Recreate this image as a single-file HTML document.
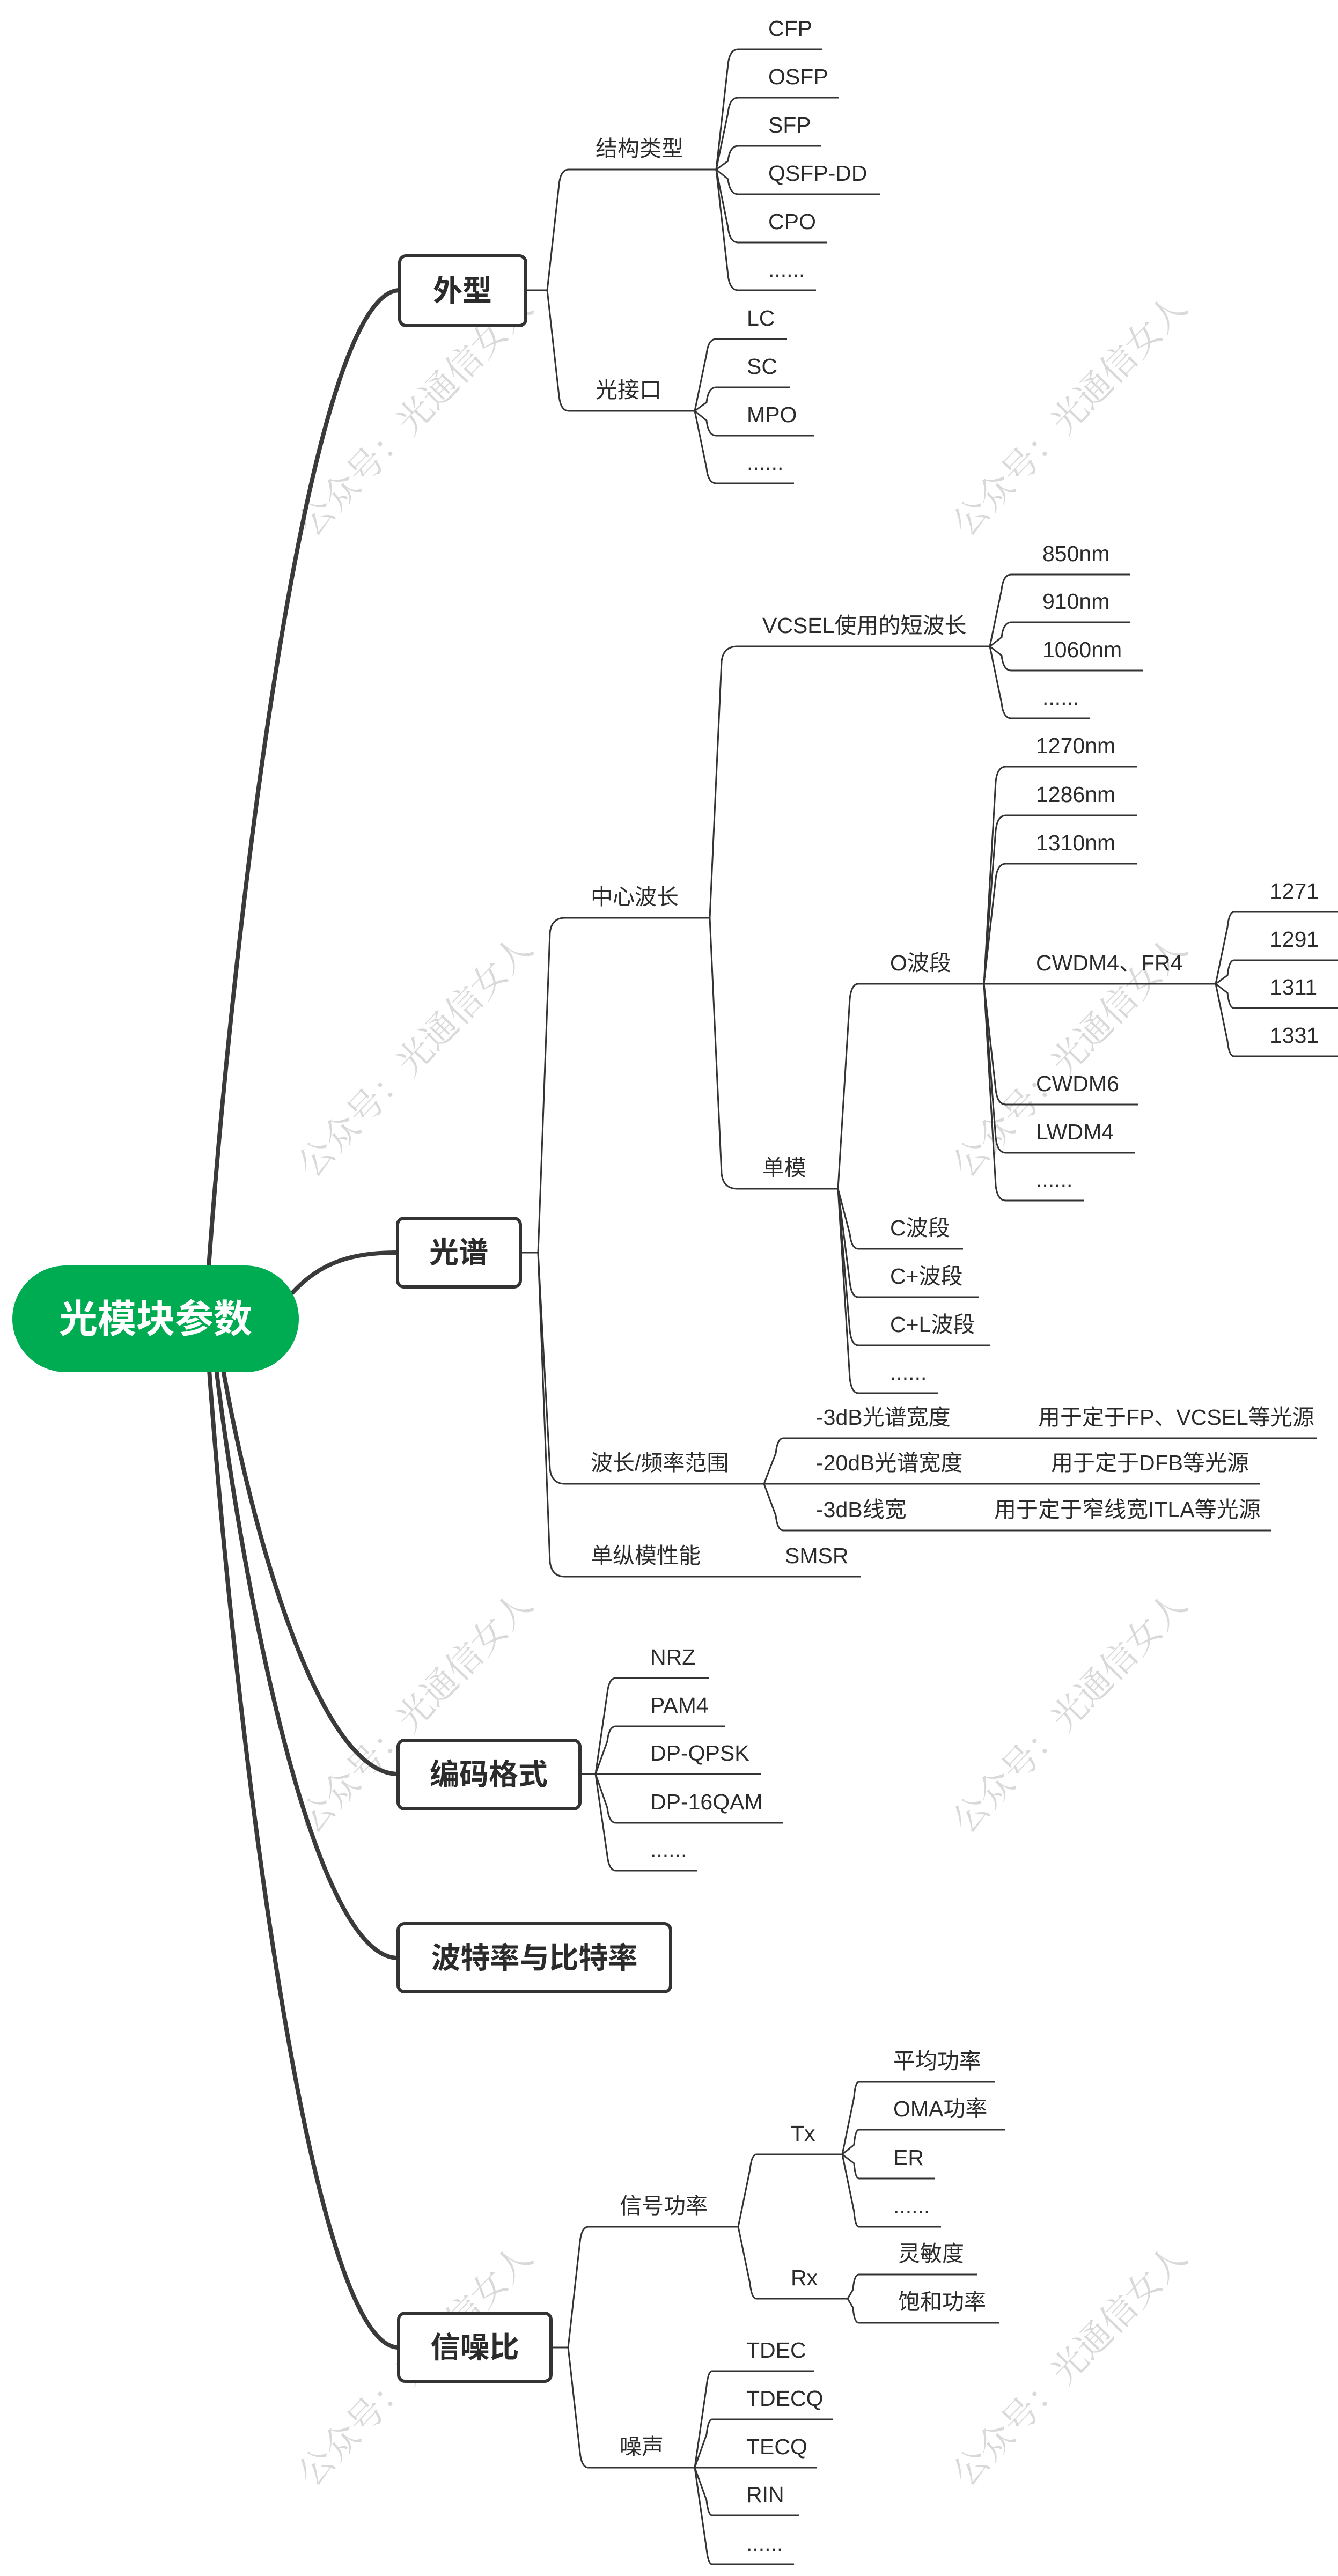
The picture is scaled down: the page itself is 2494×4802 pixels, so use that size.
<!DOCTYPE html>
<html><head><meta charset="utf-8"><style>
html,body{margin:0;padding:0;background:#fff;}
svg{display:block;}
.t{font-family:"Liberation Sans","Noto Sans CJK SC",sans-serif;font-size:41px;fill:#2b2b2b;}
.b{font-family:"Liberation Sans","Noto Sans CJK SC",sans-serif;font-size:55px;font-weight:bold;fill:#2b2b2b;}
.w{font-family:"Noto Serif CJK SC","Noto Sans CJK SC",serif;font-size:66px;fill:#d9d9d9;}
</style></head><body>
<svg width="2494" height="4802" viewBox="0 0 2494 4802" xmlns="http://www.w3.org/2000/svg">
<rect width="2494" height="4802" fill="#fff"/>
<g class="w" text-anchor="middle">
<text transform="translate(790,790) rotate(-46)">公众号：光通信女人</text>
<text transform="translate(2010,790) rotate(-46)">公众号：光通信女人</text>
<text transform="translate(790,1985) rotate(-46)">公众号：光通信女人</text>
<text transform="translate(2010,1985) rotate(-46)">公众号：光通信女人</text>
<text transform="translate(790,3208) rotate(-46)">公众号：光通信女人</text>
<text transform="translate(2010,3208) rotate(-46)">公众号：光通信女人</text>
<text transform="translate(790,4425) rotate(-46)">公众号：光通信女人</text>
<text transform="translate(2010,4425) rotate(-46)">公众号：光通信女人</text>
</g>
<g fill="none" stroke="#3a3a3a" stroke-width="8" stroke-linecap="round">
<path d="M383 2450 C422 1843 566 541 745 541"/>
<path d="M400 2450 C434 2707 571 3307 742 3307"/>
<path d="M392 2450 C427 2810 567 3650 742 3650"/>
<path d="M383 2450 C419 3028 563 4376 743 4376"/>
<path d="M520 2440 C580 2360 640 2335 741 2335"/>
</g>
<g fill="none" stroke="#333" stroke-width="3">
<path d="M981 541 H1020"/>
<path d="M1020 541 L1042 344 Q1045 316 1060 316 H1335"/>
<path d="M1020 541 L1042 738 Q1045 766 1060 766 H1295"/>
<path d="M1335 316 L1357 120 Q1360 92 1376 92 H1532"/>
<path d="M1335 316 L1357 210 Q1360 182 1376 182 H1564"/>
<path d="M1335 316 L1357 300 Q1360 272 1376 272 H1530"/>
<path d="M1335 316 L1357 334 Q1360 362 1376 362 H1641"/>
<path d="M1335 316 L1357 424 Q1360 452 1376 452 H1541"/>
<path d="M1335 316 L1357 513 Q1360 541 1376 541 H1521"/>
<path d="M1295 766 L1317 660 Q1320 632 1335 632 H1467"/>
<path d="M1295 766 L1317 750 Q1320 722 1335 722 H1472"/>
<path d="M1295 766 L1317 784 Q1320 812 1335 812 H1517"/>
<path d="M1295 766 L1317 873 Q1320 901 1335 901 H1480"/>
<path d="M970 2335 H1003"/>
<path d="M1003 2335 L1025 1739 Q1028 1711 1053 1711 H1323"/>
<path d="M1003 2335 L1025 2738 Q1028 2766 1053 2766 H1424"/>
<path d="M1003 2335 L1025 2911 Q1028 2939 1053 2939 H1604"/>
<path d="M1323 1711 L1345 1233 Q1348 1205 1375 1205 H1845"/>
<path d="M1323 1711 L1345 2188 Q1348 2216 1375 2216 H1562"/>
<path d="M1845 1205 L1867 1099 Q1870 1071 1885 1071 H2107"/>
<path d="M1845 1205 L1867 1188 Q1870 1160 1885 1160 H2107"/>
<path d="M1845 1205 L1867 1222 Q1870 1250 1885 1250 H2130"/>
<path d="M1845 1205 L1867 1311 Q1870 1339 1885 1339 H2032"/>
<path d="M1562 2216 L1584 1862 Q1587 1834 1600 1834 H1834"/>
<path d="M1562 2216 L1584 2300 Q1587 2328 1600 2328 H1795"/>
<path d="M1562 2216 L1584 2390 Q1587 2418 1600 2418 H1825"/>
<path d="M1562 2216 L1584 2480 Q1587 2508 1600 2508 H1845"/>
<path d="M1562 2216 L1584 2569 Q1587 2597 1600 2597 H1749"/>
<path d="M1834 1834 L1856 1457 Q1859 1429 1875 1429 H2119"/>
<path d="M1834 1834 L1856 1548 Q1859 1520 1875 1520 H2119"/>
<path d="M1834 1834 L1856 1638 Q1859 1610 1875 1610 H2119"/>
<path d="M1834 1834 H2266"/>
<path d="M1834 1834 L1856 2031 Q1859 2059 1875 2059 H2121"/>
<path d="M1834 1834 L1856 2121 Q1859 2149 1875 2149 H2116"/>
<path d="M1834 1834 L1856 2210 Q1859 2238 1875 2238 H2020"/>
<path d="M2266 1834 L2288 1728 Q2291 1700 2300 1700 H2494"/>
<path d="M2266 1834 L2288 1818 Q2291 1790 2300 1790 H2494"/>
<path d="M2266 1834 L2288 1851 Q2291 1879 2300 1879 H2494"/>
<path d="M2266 1834 L2288 1941 Q2291 1969 2300 1969 H2494"/>
<path d="M1424 2766 L1446 2709 Q1449 2681 1460 2681 H2454"/>
<path d="M1424 2766 H2348"/>
<path d="M1424 2766 L1446 2825 Q1449 2853 1460 2853 H2369"/>
<path d="M1081 3307 H1110"/>
<path d="M1110 3307 L1132 3156 Q1135 3128 1148 3128 H1321"/>
<path d="M1110 3307 L1132 3246 Q1135 3218 1148 3218 H1352"/>
<path d="M1110 3307 H1418"/>
<path d="M1110 3307 L1132 3370 Q1135 3398 1148 3398 H1459"/>
<path d="M1110 3307 L1132 3459 Q1135 3487 1148 3487 H1299"/>
<path d="M1027 4376 H1059"/>
<path d="M1059 4376 L1081 4179 Q1084 4151 1097 4151 H1376"/>
<path d="M1059 4376 L1081 4572 Q1084 4600 1097 4600 H1295"/>
<path d="M1376 4151 L1398 4044 Q1401 4016 1410 4016 H1570"/>
<path d="M1376 4151 L1398 4257 Q1401 4285 1410 4285 H1580"/>
<path d="M1570 4016 L1592 3909 Q1594 3881 1601 3881 H1854"/>
<path d="M1570 4016 L1592 3998 Q1594 3970 1601 3970 H1873"/>
<path d="M1570 4016 L1592 4033 Q1594 4061 1601 4061 H1743"/>
<path d="M1570 4016 L1592 4123 Q1594 4151 1601 4151 H1754"/>
<path d="M1580 4285 L1590 4268 Q1592 4240 1601 4240 H1822"/>
<path d="M1580 4285 L1590 4302 Q1592 4330 1601 4330 H1863"/>
<path d="M1295 4600 L1317 4448 Q1320 4420 1327 4420 H1518"/>
<path d="M1295 4600 L1317 4538 Q1320 4510 1327 4510 H1552"/>
<path d="M1295 4600 H1522"/>
<path d="M1295 4600 L1317 4661 Q1320 4689 1327 4689 H1490"/>
<path d="M1295 4600 L1317 4752 Q1320 4780 1327 4780 H1480"/>
</g>
<rect x="23" y="2359" width="534" height="199" rx="100" ry="100" fill="#00ac52"/>
<text x="290" y="2484" text-anchor="middle" font-family="Liberation Sans,Noto Sans CJK SC,sans-serif" font-size="72" font-weight="bold" fill="#fff">光模块参数</text>
<g fill="#fff" stroke="#333" stroke-width="6">
<rect x="745" y="477" width="235" height="130" rx="12"/>
<rect x="741" y="2271" width="229" height="128" rx="12"/>
<rect x="742" y="3244" width="339" height="128" rx="12"/>
<rect x="742" y="3586" width="508" height="127" rx="12"/>
<rect x="743" y="4312" width="284" height="127" rx="12"/>
</g>
<g class="b" text-anchor="middle">
<text x="862" y="561">外型</text>
<text x="855" y="2354">光谱</text>
<text x="911" y="3327">编码格式</text>
<text x="996" y="3669">波特率与比特率</text>
<text x="885" y="4395">信噪比</text>
</g>
<g class="t" transform="translate(0,-5)">
<text x="1110" y="296">结构类型</text>
<text x="1110" y="746">光接口</text>
<text x="1432" y="72">CFP</text>
<text x="1432" y="162">OSFP</text>
<text x="1432" y="252">SFP</text>
<text x="1432" y="342">QSFP-DD</text>
<text x="1432" y="432">CPO</text>
<text x="1432" y="521">......</text>
<text x="1392" y="612">LC</text>
<text x="1392" y="702">SC</text>
<text x="1392" y="792">MPO</text>
<text x="1392" y="881">......</text>
<text x="1101" y="1691">中心波长</text>
<text x="1101" y="2746">波长/频率范围</text>
<text x="1101" y="2919">单纵模性能</text>
<text x="1463" y="2919">SMSR</text>
<text x="1421" y="1185">VCSEL使用的短波长</text>
<text x="1421" y="2196">单模</text>
<text x="1943" y="1051">850nm</text>
<text x="1943" y="1140">910nm</text>
<text x="1943" y="1230">1060nm</text>
<text x="1943" y="1319">......</text>
<text x="1659" y="1814">O波段</text>
<text x="1659" y="2308">C波段</text>
<text x="1659" y="2398">C+波段</text>
<text x="1659" y="2488">C+L波段</text>
<text x="1659" y="2577">......</text>
<text x="1931" y="1409">1270nm</text>
<text x="1931" y="1500">1286nm</text>
<text x="1931" y="1590">1310nm</text>
<text x="1931" y="1814">CWDM4、FR4</text>
<text x="1931" y="2039">CWDM6</text>
<text x="1931" y="2129">LWDM4</text>
<text x="1931" y="2218">......</text>
<text x="2367" y="1680">1271</text>
<text x="2367" y="1770">1291</text>
<text x="2367" y="1859">1311</text>
<text x="2367" y="1949">1331</text>
<text x="1521" y="2661">-3dB光谱宽度</text>
<text x="1935" y="2661">用于定于FP、VCSEL等光源</text>
<text x="1521" y="2746">-20dB光谱宽度</text>
<text x="1959" y="2746">用于定于DFB等光源</text>
<text x="1521" y="2833">-3dB线宽</text>
<text x="1853" y="2833">用于定于窄线宽ITLA等光源</text>
<text x="1212" y="3108">NRZ</text>
<text x="1212" y="3198">PAM4</text>
<text x="1212" y="3287">DP-QPSK</text>
<text x="1212" y="3378">DP-16QAM</text>
<text x="1212" y="3467">......</text>
<text x="1155" y="4131">信号功率</text>
<text x="1155" y="4580">噪声</text>
<text x="1474" y="3996">Tx</text>
<text x="1474" y="4265">Rx</text>
<text x="1665" y="3861">平均功率</text>
<text x="1665" y="3950">OMA功率</text>
<text x="1665" y="4041">ER</text>
<text x="1665" y="4131">......</text>
<text x="1674" y="4220">灵敏度</text>
<text x="1674" y="4310">饱和功率</text>
<text x="1391" y="4400">TDEC</text>
<text x="1391" y="4490">TDECQ</text>
<text x="1391" y="4580">TECQ</text>
<text x="1391" y="4669">RIN</text>
<text x="1391" y="4760">......</text>
</g>
</svg>
</body></html>
